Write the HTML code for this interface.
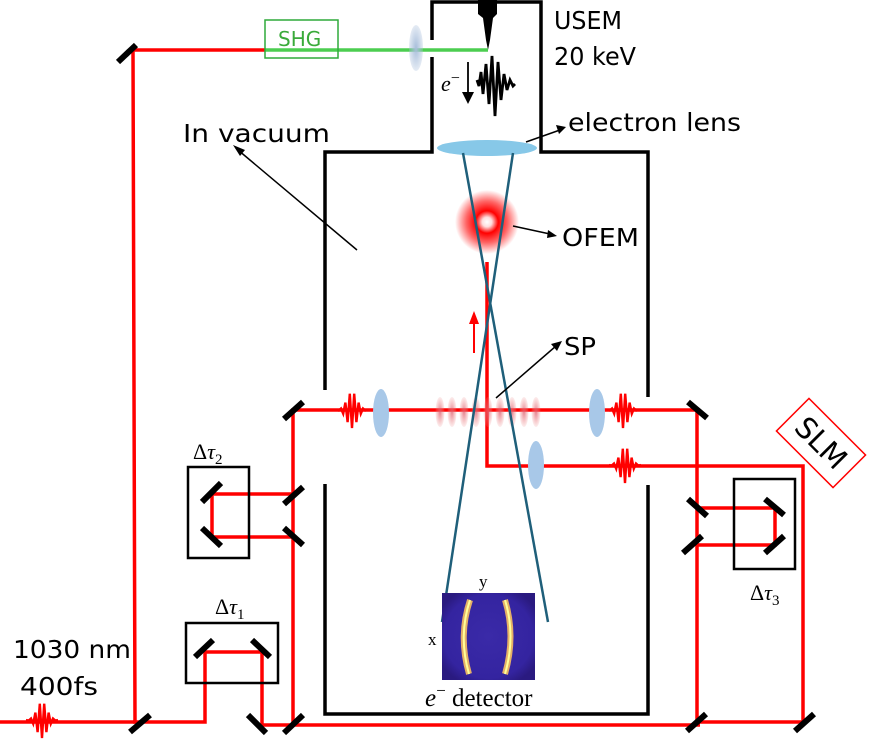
<!DOCTYPE html>
<html><head><meta charset="utf-8"><style>
body{margin:0;background:#fff}
svg{display:block}
text{font-family:"DejaVu Sans","Liberation Sans",sans-serif}
.s{font-family:"Liberation Serif",serif}
</style></head><body>
<svg width="872" height="749" viewBox="0 0 872 749" xmlns="http://www.w3.org/2000/svg">
<defs>
<radialGradient id="glow"><stop offset="0" stop-color="#fff"/><stop offset="0.15" stop-color="#fdd"/><stop offset="0.35" stop-color="#f00"/><stop offset="0.65" stop-color="#f00" stop-opacity="0.6"/><stop offset="1" stop-color="#f00" stop-opacity="0"/></radialGradient>
<radialGradient id="pt"><stop offset="0" stop-color="#e06070" stop-opacity="0.8"/><stop offset="1" stop-color="#e88" stop-opacity="0.15"/></radialGradient>
<radialGradient id="bl"><stop offset="0" stop-color="#a8bedb"/><stop offset="1" stop-color="#a8bedb" stop-opacity="0.3"/></radialGradient>
<radialGradient id="det" cx="0.5" cy="0.5" r="0.6"><stop offset="0" stop-color="#3a2aa8"/><stop offset="0.8" stop-color="#3424a0"/><stop offset="1" stop-color="#2a1a80"/></radialGradient>
<symbol id="pu" viewBox="-16 -20 32 40" overflow="visible">
<polyline fill="none" stroke="red" stroke-width="2.4" points="-16,0 -13.2,0.5 -11,-1.5 -8.8,3.7 -6.6,-7.4 -4.4,12.1 -2.2,-16.3 0,18 2.2,-16.3 4.4,12.1 6.6,-7.4 8.8,3.7 11,-1.5 13.2,0.5 16,0"/>
</symbol>
</defs>

<!-- chamber -->
<g fill="none" stroke="#000" stroke-width="3.5">
<polyline points="432,40 432,2 541,2 541,152 648,152 648,397"/>
<polyline points="432,57 432,152 325,152 325,390"/>
<polyline points="325,484 325,714 648,714 648,485"/>
</g>
<path d="M478,0 L497,0 L497,14 L493,18 L490,40 L488,50 L486,40 L483,18 L478,14 Z" fill="#000"/>

<!-- red beams -->
<g fill="none" stroke="red" stroke-width="3.5">
<polyline points="265,50 133,50 135,722 0,722"/>
<polyline points="133,722 205,722 205,652 262,652 262,725 700,725"/>
<polyline points="293,725 293,410 700,410"/>
<polyline points="293,494 212,494 212,537 293,537"/>
<polyline points="697,410 697,722 803,722 803,466 487,466 487,262"/>
<polyline points="697,508 775,508 775,545 697,545"/>
</g>
<line x1="265" y1="50" x2="488" y2="50" stroke="#4ccd50" stroke-width="3.5"/>
<rect x="265" y="20" width="73" height="38" fill="none" stroke="#2faa3a" stroke-width="1.5"/>
<text x="278" y="46" font-size="20" fill="#3aaa3a">SHG</text>
<ellipse cx="416" cy="48" rx="7" ry="23" fill="url(#bl)"/>

<!-- mirrors -->
<g stroke="#000" stroke-width="6">
<line x1="118" y1="62" x2="136" y2="45"/>
<line x1="130" y1="732" x2="150" y2="715"/>
<line x1="248" y1="715" x2="266" y2="733"/>
<line x1="284" y1="733" x2="303" y2="715"/>
<line x1="284" y1="419" x2="303" y2="402"/>
<line x1="284" y1="504" x2="303" y2="487"/>
<line x1="284" y1="528" x2="303" y2="545"/>
<line x1="202" y1="502" x2="221" y2="483"/>
<line x1="202" y1="528" x2="221" y2="546"/>
<line x1="195" y1="657" x2="213" y2="640"/>
<line x1="252" y1="640" x2="270" y2="657"/>
<line x1="688" y1="402" x2="707" y2="418"/>
<line x1="688" y1="499" x2="707" y2="516"/>
<line x1="683" y1="553" x2="702" y2="536"/>
<line x1="765" y1="499" x2="784" y2="515"/>
<line x1="765" y1="553" x2="784" y2="536"/>
<line x1="687" y1="731" x2="706" y2="714"/>
<line x1="795" y1="731" x2="814" y2="714"/>
</g>
<g fill="none" stroke="#000" stroke-width="2.5">
<rect x="188" y="467" width="61" height="91"/>
<rect x="186" y="623" width="92" height="60"/>
<rect x="734" y="479" width="61" height="90"/>
</g>
<text class="s" x="193" y="459" font-size="22">Δ<tspan font-style="italic">τ</tspan><tspan font-size="15" dy="5">2</tspan></text>
<text class="s" x="215" y="614" font-size="22">Δ<tspan font-style="italic">τ</tspan><tspan font-size="15" dy="5">1</tspan></text>
<text class="s" x="750" y="600" font-size="22">Δ<tspan font-style="italic">τ</tspan><tspan font-size="15" dy="5">3</tspan></text>

<g transform="translate(821,443) rotate(45)">
<rect x="-40" y="-23" width="80" height="46" fill="#fff" stroke="red" stroke-width="1.5"/>
<text x="0" y="10" font-size="29" text-anchor="middle">SLM</text>
</g>

<g fill="#a8c8e8">
<ellipse cx="381" cy="413" rx="8" ry="24"/>
<ellipse cx="597" cy="413" rx="8" ry="24"/>
<ellipse cx="536" cy="465" rx="8" ry="24"/>
</g>
<g fill="url(#pt)">
<ellipse cx="440" cy="412" rx="4.5" ry="15"/><ellipse cx="452" cy="412" rx="4.5" ry="15"/>
<ellipse cx="464" cy="412" rx="4.5" ry="15"/><ellipse cx="476" cy="412" rx="4.5" ry="15"/>
<ellipse cx="488" cy="412" rx="4.5" ry="15"/><ellipse cx="500" cy="412" rx="4.5" ry="15"/>
<ellipse cx="512" cy="412" rx="4.5" ry="15"/><ellipse cx="524" cy="412" rx="4.5" ry="15"/>
<ellipse cx="536" cy="412" rx="4.5" ry="15"/>
</g>
<use href="#pu" x="336" y="390" width="32" height="40"/>
<use href="#pu" x="607" y="390" width="32" height="40"/>
<use href="#pu" x="609" y="445" width="32" height="40"/>
<use href="#pu" x="26" y="700" width="32" height="40"/>

<circle cx="487" cy="222" r="32" fill="url(#glow)"/>
<ellipse cx="487" cy="148" rx="50" ry="8" fill="#87c8e8"/>
<g stroke="#1f5f7a" stroke-width="2.5">
<line x1="463" y1="153" x2="548" y2="622"/>
<line x1="513" y1="153" x2="442" y2="622"/>
</g>
<rect x="442" y="593" width="93" height="87" fill="url(#det)"/>
<path d="M470,600 Q458,636 469,674" stroke="#f8c060" stroke-width="6" fill="none" opacity="0.9"/>
<path d="M505,600 Q516,636 505,674" stroke="#f8c060" stroke-width="6" fill="none" opacity="0.9"/>
<path d="M470,600 Q458,636 469,674 M505,600 Q516,636 505,674" stroke="#ff9" stroke-width="2" fill="none"/>
<text class="s" x="479" y="587" font-size="17">y</text>
<text class="s" x="428" y="645" font-size="17">x</text>
<text class="s" x="425" y="706" font-size="25"><tspan font-style="italic">e</tspan><tspan font-size="17" dy="-10">−</tspan><tspan dy="10"> detector</tspan></text>

<text class="s" x="441" y="91" font-size="22" font-style="italic">e<tspan font-size="16" dy="-8" font-style="normal">−</tspan></text>
<line x1="468" y1="62" x2="468" y2="94" stroke="#000" stroke-width="1.8"/>
<path d="M462,92 L468,104 L474,92 Z"/>
<polyline fill="none" stroke="#000" stroke-width="2.8" points="477,80 479,86 481,72 483,94 486,64 489,104 492,56 495,116 498,62 501,100 504,74 507,90 510,80 513,86 515,84"/>

<g stroke="#000" stroke-width="1.5" fill="none">
<line x1="357" y1="250" x2="238" y2="150"/>
<line x1="526" y1="142" x2="560" y2="130"/>
<line x1="513" y1="226" x2="550" y2="234"/>
<line x1="496" y1="398" x2="556" y2="346"/>
</g>
<path d="M233,145 L245,150 L240,156 Z"/>
<path d="M566,127 L556,125 L559,134 Z"/>
<path d="M557,236 L548,230 L547,238 Z"/>
<path d="M562,341 L551,344 L557,351 Z"/>
<line x1="474" y1="353" x2="474" y2="322" stroke="red" stroke-width="2"/>
<path d="M469,324 L474,311 L479,324 Z" fill="red"/>

<g font-size="25">
<text x="183" y="142" textLength="147" lengthAdjust="spacingAndGlyphs">In vacuum</text>
<text x="554" y="29" textLength="68" lengthAdjust="spacingAndGlyphs">USEM</text>
<text x="554" y="65" textLength="82" lengthAdjust="spacingAndGlyphs">20 keV</text>
<text x="568" y="131" textLength="173" lengthAdjust="spacingAndGlyphs">electron lens</text>
<text x="562" y="246" textLength="77" lengthAdjust="spacingAndGlyphs">OFEM</text>
<text x="564" y="355" textLength="32" lengthAdjust="spacingAndGlyphs">SP</text>
<text x="13" y="658" textLength="118" lengthAdjust="spacingAndGlyphs">1030 nm</text>
<text x="20" y="695" textLength="78" lengthAdjust="spacingAndGlyphs">400fs</text>
</g>
</svg>
</body></html>
